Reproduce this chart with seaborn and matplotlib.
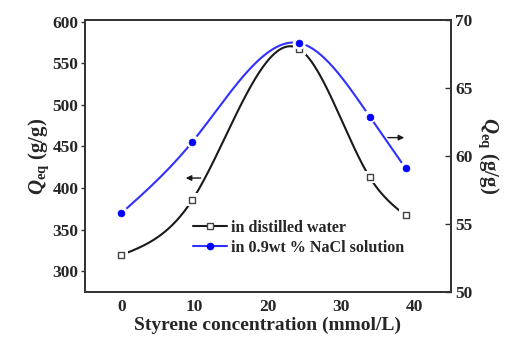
import numpy as np
import pandas as pd
import matplotlib
matplotlib.use("Agg")
import matplotlib.pyplot as plt
import seaborn as sns
from matplotlib.lines import Line2D

# ---- data ----
styrene = [0.0, 9.7, 24.3, 33.9, 38.8]
q_water = [319.5, 386.0, 567.0, 413.0, 367.0]
q_nacl = [55.8, 61.05, 68.3, 62.9, 59.1]
x_ticks = [0, 10, 20, 30, 40]
left_ticks = [300, 350, 400, 450, 500, 550, 600]
right_ticks = [50, 55, 60, 65, 70]
legend_labels = ["in distilled water", "in 0.9wt % NaCl solution"]


def natural_spline(x, y, n=300):
    x = np.asarray(x, float); y = np.asarray(y, float)
    k = len(x); h = np.diff(x)
    A = np.zeros((k, k)); b = np.zeros(k)
    A[0, 0] = A[-1, -1] = 1
    for i in range(1, k - 1):
        A[i, i - 1] = h[i - 1]; A[i, i] = 2 * (h[i - 1] + h[i]); A[i, i + 1] = h[i]
        b[i] = 6 * ((y[i + 1] - y[i]) / h[i] - (y[i] - y[i - 1]) / h[i - 1])
    M = np.linalg.solve(A, b)
    xs = np.linspace(x[0], x[-1], n); ys = np.empty_like(xs)
    for j, t in enumerate(xs):
        i = min(np.searchsorted(x, t, side="right") - 1, k - 2)
        a = x[i + 1] - t; c = t - x[i]
        ys[j] = (M[i] * a**3 + M[i + 1] * c**3) / (6 * h[i]) + \
                (y[i] / h[i] - M[i] * h[i] / 6) * a + (y[i + 1] / h[i] - M[i + 1] * h[i] / 6) * c
    return xs, ys


sns.set_theme(style="white")
plt.rcParams["font.family"] = ["Liberation Serif", "DejaVu Serif"]
plt.rcParams["font.weight"] = "bold"
plt.rcParams["mathtext.fontset"] = "custom"
plt.rcParams["mathtext.it"] = "Liberation Serif:italic:bold"
plt.rcParams["mathtext.rm"] = "Liberation Serif:bold"
plt.rcParams["mathtext.bf"] = "Liberation Serif:bold"

fig = plt.figure(figsize=(5.05, 3.38), dpi=100)
ax = fig.add_axes([0.168, 0.136, 0.725, 0.805])
ax2 = ax.twinx()

df = pd.DataFrame({"x": styrene, "water": q_water, "nacl": q_nacl})
xs, ys_w = natural_spline(styrene, q_water)
_, ys_n = natural_spline(styrene, q_nacl)
curve = pd.DataFrame({"x": xs, "water": ys_w, "nacl": ys_n})

black = "#1a1a1a"
blue = "#3030ff"

sns.lineplot(data=curve, x="x", y="water", ax=ax, color=black, lw=1.5, zorder=2)
sns.lineplot(data=curve, x="x", y="nacl", ax=ax2, color=blue, lw=1.5, zorder=2)
# white halos giving the gaps around markers
sns.scatterplot(data=df, x="x", y="water", ax=ax, marker="s", s=80, color="white",
                edgecolor="none", zorder=3)
sns.scatterplot(data=df, x="x", y="nacl", ax=ax2, marker="o", s=90, color="white",
                edgecolor="none", zorder=3)
sns.scatterplot(data=df, x="x", y="water", ax=ax, marker="s", s=18, color="white",
                edgecolor="#444444", linewidth=1.0, zorder=4)
sns.scatterplot(data=df, x="x", y="nacl", ax=ax2, marker="o", s=24, color="#0000ff",
                edgecolor="#0000ff", linewidth=0.5, zorder=4)

ax.set_xlim(-5, 45)
ax.set_ylim(275, 602)
ax2.set_ylim(50, 70)
ax.set_xticks(x_ticks)
ax.set_yticks(left_ticks)
ax2.set_yticks(right_ticks)

for a in (ax, ax2):
    for s in a.spines.values():
        s.set_color("#333333"); s.set_linewidth(1.3); s.set_visible(True)
    a.grid(False)

ax.tick_params(axis="y", direction="out", length=3, width=1, color="#333333",
               labelsize=12.5, pad=1.5)
ax.tick_params(axis="x", direction="in", length=4, width=1, color="#333333",
               labelsize=12.5, pad=5)
ax2.tick_params(axis="y", direction="in", length=4, width=1, color="#333333",
                labelsize=12.5, pad=3, right=True)
for lab in ax.get_xticklabels() + ax.get_yticklabels() + ax2.get_yticklabels():
    lab.set_fontweight("bold")

ax.set_xlabel("Styrene concentration (mmol/L)", fontsize=14, fontweight="bold", labelpad=1)
ax.set_ylabel(r"$Q_{\mathrm{eq}}$ (g/g)", fontsize=15, fontweight="bold", labelpad=1)
ax2.set_ylabel(r"$Q_{\mathrm{eq}}$ (g/g)", fontsize=15, fontweight="bold", rotation=270,
               labelpad=20)

ax.annotate("", xy=(8.4, 412), xytext=(11.2, 412),
            arrowprops=dict(arrowstyle="-|>", color=black, lw=1.0, mutation_scale=8))
ax2.annotate("", xy=(39.0, 61.35), xytext=(36.0, 61.35),
             arrowprops=dict(arrowstyle="-|>", color=black, lw=1.0, mutation_scale=8))

handles = [
    Line2D([0], [0], color=black, lw=1.5, marker="s", markersize=4,
           markerfacecolor="white", markeredgecolor="#444444"),
    Line2D([0], [0], color=blue, lw=1.5, marker="o", markersize=4.5,
           markerfacecolor="#0000ff", markeredgecolor="#0000ff"),
]
leg = ax.legend(handles, legend_labels, loc="upper left", bbox_to_anchor=(0.277, 0.29),
                frameon=False, fontsize=11.6, handlelength=2.1, handletextpad=0.3,
                labelspacing=0.25, borderaxespad=0)
for t in leg.get_texts():
    t.set_fontweight("bold")

fig.savefig("out.png", dpi=100)
